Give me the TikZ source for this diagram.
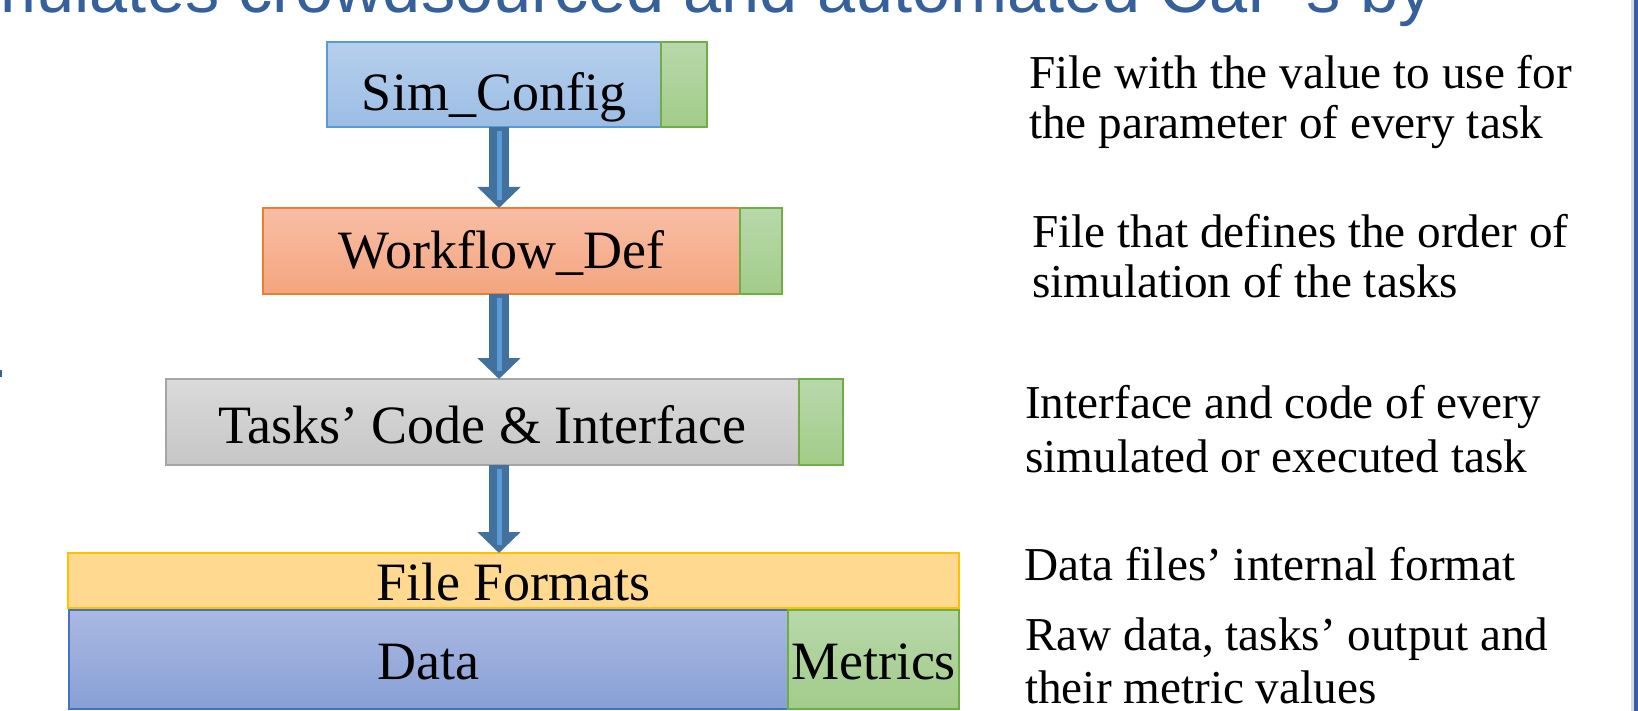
\documentclass[tikz,border=0pt]{standalone}
\usepackage{fontspec}
\setmainfont{Liberation Serif}
\newfontfamily\titlefont{Liberation Sans}
\usetikzlibrary{arrows.meta,calc}

\definecolor{titleblue}{HTML}{35609B}
\definecolor{edgelight}{HTML}{D3DBE8}
\definecolor{arrowdark}{HTML}{41719C}
\definecolor{arrowlight}{HTML}{5B9BD5}
\definecolor{cfgtop}{HTML}{B6CFEC}
\definecolor{cfgbot}{HTML}{9BBDE5}
\definecolor{cfgline}{HTML}{5B9BD5}
\definecolor{wftop}{HTML}{F8BEA5}
\definecolor{wfbot}{HTML}{F4A57F}
\definecolor{wfline}{HTML}{ED7D31}
\definecolor{tasktop}{HTML}{DADADA}
\definecolor{taskbot}{HTML}{C6C6C6}
\definecolor{taskline}{HTML}{A5A5A5}
\definecolor{grntop}{HTML}{B8D8AA}
\definecolor{grnbot}{HTML}{A2CC8A}
\definecolor{grnline}{HTML}{70AD47}
\definecolor{fmtfill}{HTML}{FFD98F}
\definecolor{fmtline}{HTML}{FFC000}
\definecolor{datatop}{HTML}{AAB8E2}
\definecolor{databot}{HTML}{88A0D6}
\definecolor{dataline}{HTML}{4472C4}

\begin{document}
\begin{tikzpicture}[x=1pt,y=-1pt,
  layer/.style={draw, line width=2.5pt, inner sep=0pt, outer sep=0pt,
    anchor=center, font=\fontsize{54}{60}\selectfont, text depth=0pt,
    text height=35pt},
  cfgbox/.style={layer, draw=cfgline, top color=cfgtop, bottom color=cfgbot},
  wfbox/.style={layer, draw=wfline, top color=wftop, bottom color=wfbot},
  taskbox/.style={layer, draw=taskline, top color=tasktop, bottom color=taskbot},
  tabbox/.style={layer, draw=grnline, top color=grntop, bottom color=grnbot},
  fmtbox/.style={layer, draw=fmtline, fill=fmtfill},
  databox/.style={layer, draw=dataline, top color=datatop, bottom color=databot},
  flow/.style={draw=arrowdark, line width=20pt,
    -{Triangle[width=42pt,length=21pt]}},
  flowcore/.style={draw=arrowlight, line width=5pt},
  note/.style={anchor=base west, inner sep=0pt,
    font=\fontsize{47.2}{52}\selectfont}
]
\useasboundingbox (0,0) rectangle (1638,711);
\fill[white] (0,0) rectangle (1638,711);

% title line running off the top of the page
\node[anchor=base east, inner sep=0pt, text=titleblue,
  font=\titlefont\fontsize{68.5}{76}\selectfont] (title) at (1433,13)
  {Simulates crowdsourced and automated CaP’s by};

% page edge decorations
\fill[titleblue] (0,370) rectangle (2,377);
\fill[edgelight] (1631,0) rectangle (1634,711);
\fill[titleblue] (1634,0) rectangle (1638,711);

% stacked layers
\node[cfgbox, minimum width=334pt, minimum height=85pt, text height=53pt]
  (sim) at (494,84.5) {Sim\_Config};
\node[tabbox, minimum width=46pt, minimum height=85pt] (simtab) at (684,84.5) {};

\node[wfbox, minimum width=477pt, minimum height=86pt] (wf) at (501.5,251) {Workflow\_Def};
\node[tabbox, minimum width=42pt, minimum height=86pt] (wftab) at (761,251) {};

\node[taskbox, minimum width=633pt, minimum height=86pt, text height=43pt]
  (tasks) at (482.5,422) {Tasks’ Code \& Interface};
\node[tabbox, minimum width=44pt, minimum height=86pt] (taskstab) at (821,422) {};

\node[fmtbox, minimum width=891pt, minimum height=55pt, text height=39pt]
  (fmt) at (513.5,580.5) {File Formats};

\node[databox, minimum width=719pt, minimum height=99pt, text height=40pt]
  (data) at (428.5,659.5) {Data};
\node[tabbox, minimum width=171pt, minimum height=99pt, text height=40pt]
  (metrics) at (873.5,659.5) {Metrics};

% flow arrows between the layers
\coordinate (ax) at (499,0);
\draw[flow] (sim.south -| ax) -- (wf.north -| ax);
\draw[flow] (wf.south -| ax) -- (tasks.north -| ax);
\draw[flow] (tasks.south -| ax) -- (fmt.north -| ax);
\draw[flowcore] ($(sim.south -| ax)+(0,4)$) -- ($(wf.north -| ax)+(0,-8)$);
\draw[flowcore] ($(wf.south -| ax)+(0,4)$) -- ($(tasks.north -| ax)+(0,-8)$);
\draw[flowcore] ($(tasks.south -| ax)+(0,4)$) -- ($(fmt.north -| ax)+(0,-8)$);

% descriptions
\node[note] (n1a) at (1029,89) {File with the value to use for};
\node[note] (n1b) at (1029,139) {the parameter of every task};
\node[note] (n2a) at (1032,248) {File that defines the order of};
\node[note] (n2b) at (1032,298) {simulation of the tasks};
\node[note] (n3a) at (1025,418) {Interface and code of every};
\node[note] (n3b) at (1025,472) {simulated or executed task};
\node[note] (n4) at (1024,580) {Data files’ internal format};
\node[note] (n5a) at (1025,650) {Raw data, tasks’ output and};
\node[note] (n5b) at (1025,703) {their metric values};
\end{tikzpicture}
\end{document}
